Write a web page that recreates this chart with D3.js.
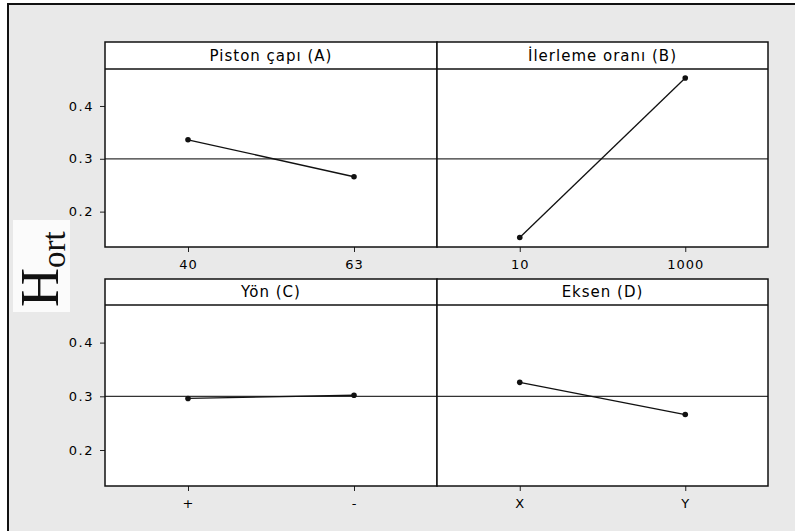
<!DOCTYPE html>
<html>
<head>
<meta charset="utf-8">
<script src="https://cdn.jsdelivr.net/npm/d3@7"></script>
<style>
  html, body { margin: 0; background: #fff; overflow: hidden; }
  svg { display: block; }
  svg text { font-family: "DejaVu Sans", sans-serif; }
</style>
</head>
<body>
<div id="chart-area"></div>
<script>
// main effects, one panel per factor
var factors = ["Piston çapı (A)", "İlerleme oranı (B)", "Yön (C)", "Eksen (D)"];
var levels = [["40", "63"], ["10", "1000"], ["+", "-"], ["X", "Y"]];
var means = [[0.336, 0.266], [0.151, 0.453], [0.296, 0.302], [0.326, 0.266]];
var grandMean = 0.3;
var yTicks = [0.2, 0.3, 0.4];
var yDomain = [0.133, 0.470];

var width = 795, height = 531;

// panel boxes: columns and rows
var cols = [[105, 437], [437, 768]];
var rows = [
	{top: 42, head: 69, bottom: 247},
	{top: 279, head: 305, bottom: 486}
];

var svg = d3.select("#chart-area").append("svg")
	.attr("width", width)
	.attr("height", height);

// grey backdrop, border only on left and top
svg.append("rect")
	.attr("x", 8).attr("y", 4)
	.attr("width", width - 8).attr("height", height - 4)
	.attr("fill", "#e9e9e9");
svg.append("path")
	.attr("d", "M8," + height + "V4H" + width)
	.attr("fill", "none")
	.attr("stroke", "#111")
	.attr("stroke-width", 2);

factors.forEach(function(f, i){
	var c = cols[i % 2], r = rows[Math.floor(i / 2)];

	var x = d3.scalePoint()
		.domain(levels[i])
		.range(c)
		.padding(0.5);

	var y = d3.scaleLinear()
		.domain(yDomain)
		.range([r.bottom, r.head]);

	var g = svg.append("g");

	// white background of panel
	g.append("rect")
		.attr("x", c[0]).attr("y", r.top)
		.attr("width", c[1] - c[0]).attr("height", r.bottom - r.top)
		.attr("fill", "#fff");

	// title in the strip
	g.append("text")
		.attr("x", (c[0] + c[1]) / 2)
		.attr("y", (r.top + r.head) / 2 + 5)
		.attr("text-anchor", "middle")
		.style("font-size", "15px")
		.style("letter-spacing", "1px")
		.attr("fill", "#000")
		.text(f);

	// reference line at grand mean
	g.append("line")
		.attr("x1", c[0]).attr("x2", c[1])
		.attr("y1", y(grandMean)).attr("y2", y(grandMean))
		.attr("stroke", "#333")
		.attr("stroke-width", 1.2);

	var line = d3.line()
		.x(function(d, j){ return x(levels[i][j]); })
		.y(function(d){ return y(d); });

	g.append("path")
		.datum(means[i])
		.attr("d", line)
		.attr("fill", "none")
		.attr("stroke", "#111")
		.attr("stroke-width", 1.3);

	g.selectAll("circle")
		.data(means[i])
		.enter()
		.append("circle")
			.attr("cx", function(d, j){ return x(levels[i][j]); })
			.attr("cy", function(d){ return y(d); })
			.attr("r", 2.8)
			.attr("fill", "#111");

	// x axis
	var xa = g.append("g")
		.attr("transform", "translate(0," + r.bottom + ")")
		.call(d3.axisBottom(x).tickSize(5).tickPadding(8));
	xa.select(".domain").remove();
	xa.selectAll("text").style("font-size", "13px").style("letter-spacing", "1px").attr("fill", "#000");
	xa.selectAll("line").attr("stroke", "#222");

	// y axis on left column
	if (i % 2 == 0) {
		var ya = g.append("g")
			.attr("transform", "translate(" + c[0] + ",0)")
			.call(d3.axisLeft(y).tickValues(yTicks).tickSize(5).tickPadding(6).tickFormat(d3.format(".1f")));
		ya.select(".domain").remove();
		ya.selectAll("text").style("font-size", "13px").style("letter-spacing", "1.5px").attr("fill", "#000");
		ya.selectAll("line").attr("stroke", "#222");
	}

	// frames
	g.append("rect")
		.attr("x", c[0]).attr("y", r.top)
		.attr("width", c[1] - c[0]).attr("height", r.bottom - r.top)
		.attr("fill", "none")
		.attr("stroke", "#111")
		.attr("stroke-width", 1.5);
	g.append("line")
		.attr("x1", c[0]).attr("x2", c[1])
		.attr("y1", r.head).attr("y2", r.head)
		.attr("stroke", "#111")
		.attr("stroke-width", 1.5);
});

// y label H_ort
svg.append("rect")
	.attr("x", 13).attr("y", 220)
	.attr("width", 57).attr("height", 92)
	.attr("fill", "#fbfbfb");

var lab = svg.append("text")
	.attr("transform", "translate(58,307) rotate(-90)")
	.style("font-family", "'Liberation Serif', serif")
	.attr("fill", "#111");
lab.append("tspan").style("font-size", "54px").text("H");
lab.append("tspan").style("font-size", "33px").attr("dy", 7).text("ort");
</script>
</body>
</html>
